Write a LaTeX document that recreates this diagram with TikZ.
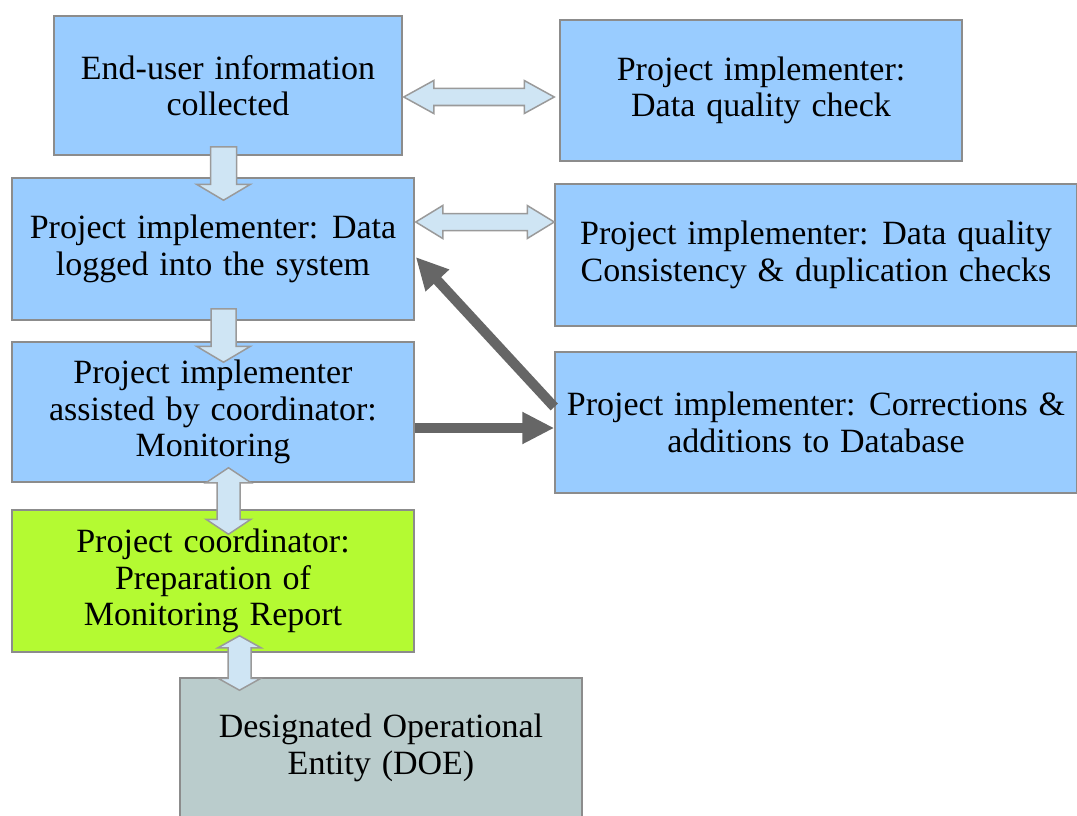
\documentclass[tikz,border=0pt]{standalone}
\usepackage{fontspec}
\setmainfont{Liberation Serif}
\usetikzlibrary{calc,arrows.meta}

\definecolor{boxblue}{HTML}{99CCFF}
\definecolor{boxedge}{HTML}{8C8C8C}
\definecolor{reportgreen}{HTML}{B4FA32}
\definecolor{doegray}{HTML}{BACCCC}
\definecolor{arrowfill}{HTML}{CFE5F4}
\definecolor{arrowedge}{HTML}{9A9A9A}
\definecolor{flowgray}{HTML}{666666}

\tikzset{
  stage/.style={draw=boxedge, line width=1.5pt, fill=boxblue, align=center,
    inner sep=0pt, font={\fontsize{34}{36.5}\selectfont\spaceskip=0.32em plus 0.1em\relax}},
  blockstyle/.style={draw=arrowedge, line width=1.5pt, fill=arrowfill, line join=miter},
  % hollow block arrow: #1 half shaft width, #2 half head width, #3 head length
  single block/.style n args={3}{blockstyle, to path={
      ($(\tikztostart)!#1!90:(\tikztotarget)$)
      -- ($(\tikztotarget)!#3!(\tikztostart)!#1!90:(\tikztotarget)$)
      -- ($(\tikztotarget)!#3!(\tikztostart)!#2!90:(\tikztotarget)$)
      -- (\tikztotarget)
      -- ($(\tikztotarget)!#3!(\tikztostart)!#2!-90:(\tikztotarget)$)
      -- ($(\tikztotarget)!#3!(\tikztostart)!#1!-90:(\tikztotarget)$)
      -- ($(\tikztostart)!#1!-90:(\tikztotarget)$) -- cycle}},
  double block/.style n args={3}{blockstyle, to path={
      (\tikztostart)
      -- ($(\tikztostart)!#3!(\tikztotarget)!#2!90:(\tikztotarget)$)
      -- ($(\tikztostart)!#3!(\tikztotarget)!#1!90:(\tikztotarget)$)
      -- ($(\tikztotarget)!#3!(\tikztostart)!#1!90:(\tikztotarget)$)
      -- ($(\tikztotarget)!#3!(\tikztostart)!#2!90:(\tikztotarget)$)
      -- (\tikztotarget)
      -- ($(\tikztotarget)!#3!(\tikztostart)!#2!-90:(\tikztotarget)$)
      -- ($(\tikztotarget)!#3!(\tikztostart)!#1!-90:(\tikztotarget)$)
      -- ($(\tikztostart)!#3!(\tikztotarget)!#1!-90:(\tikztotarget)$)
      -- ($(\tikztostart)!#3!(\tikztotarget)!#2!-90:(\tikztotarget)$)
      -- cycle}},
  flow/.style={draw=flowgray, line width=10pt, -{Triangle[length=32pt,width=30pt]}}
}

\begin{document}
\begin{tikzpicture}[x=1pt, y=-1pt]
\useasboundingbox (0,0) rectangle (1077,816);

% process boxes
\node[stage, minimum width=348pt, minimum height=139pt] (A) at (228,85.5)
  {End-user information\\collected};
\node[stage, minimum width=402pt, minimum height=141pt] (B) at (761,90.5)
  {Project implementer:\\Data quality check};
\node[stage, minimum width=402pt, minimum height=142pt] (C) at (213,249)
  {Project implementer: Data\\logged into the system};
\node[stage, minimum width=522pt, minimum height=142pt] (D) at (816,255)
  {Project implementer: Data quality\\Consistency \& duplication checks};
\node[stage, minimum width=402pt, minimum height=140pt] (E) at (213,412)
  {Project implementer\\assisted by coordinator:\\Monitoring};
\node[stage, minimum width=522pt, minimum height=141pt] (F) at (816,422.5)
  {Project implementer: Corrections \&\\additions to Database};
\node[stage, fill=reportgreen, minimum width=402pt, minimum height=142pt] (G) at (213,581)
  {Project coordinator:\\Preparation of\\Monitoring Report};
\node[stage, fill=doegray, minimum width=402pt, minimum height=140pt] (H) at (381,748)
  {Designated Operational\\Entity (DOE)};

% end points of the hollow arrows
\coordinate (ac1) at ($(A.south)+(-4.5,-9)$);
\coordinate (ac2) at ($(C.north)+(10.5,23)$);
\coordinate (ce1) at ($(C.south)+(10.5,-12)$);
\coordinate (ce2) at ($(E.north)+(10.5,21)$);
\coordinate (ab1) at ($(A.east)+(1,11.5)$);
\coordinate (ab2) at ($(B.west)+(-5,6.5)$);
\coordinate (cd1) at ($(C.east)+(1,-27)$);
\coordinate (cd2) at ($(D.west)+(0,-33)$);
\coordinate (eg1) at ($(E.south)+(15.5,-15)$);
\coordinate (eg2) at ($(G.north)+(15.5,25)$);
\coordinate (gh1) at ($(G.south)+(26.5,-17)$);
\coordinate (gh2) at ($(H.north)+(-141.5,13)$);

\draw[single block={13pt}{27pt}{16pt}] (ac1) to (ac2);
\draw[single block={12.5pt}{27pt}{16pt}] (ce1) to (ce2);
\draw[double block={8.5pt}{16.5pt}{30pt}] (ab1) to (ab2);
\draw[double block={8.5pt}{16.5pt}{27pt}] (cd1) to (cd2);
\draw[double block={11.5pt}{22.5pt}{15pt}] (eg1) to (eg2);
\draw[double block={11.5pt}{21.5pt}{12pt}] (gh1) to (gh2);

% feedback loop between monitoring and corrections
\coordinate (ef1) at ($(E.east)+(0,16)$);
\coordinate (ef2) at ($(F.west)+(0,5.5)$);
\coordinate (fc1) at ($(F.west)+(0,-15.5)$);
\coordinate (fc2) at ($(C.east)+(1,8)$);
\draw[flow] (ef1) -- (ef2);
\draw[flow] (fc1) -- (fc2);
\end{tikzpicture}
\end{document}
